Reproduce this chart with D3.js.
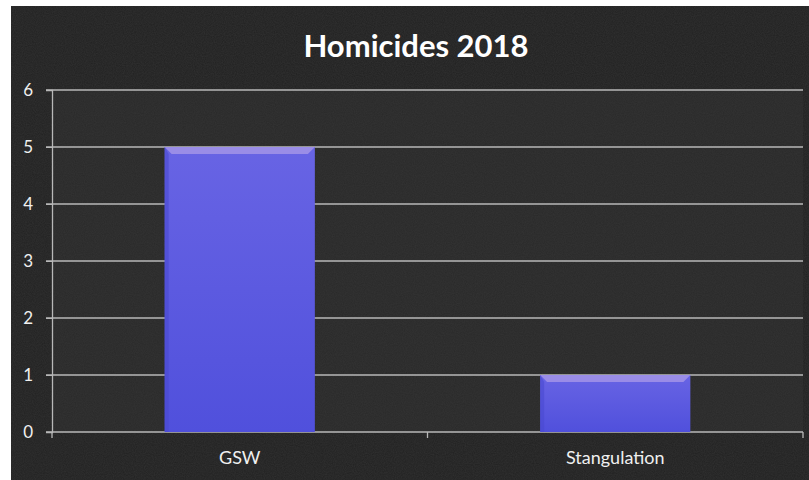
<!DOCTYPE html>
<html><head><meta charset="utf-8">
<script src="https://cdn.jsdelivr.net/npm/d3@7"></script>
<style>body{margin:0;background:#fff;}svg{display:block;}</style>
</head><body>
<script>
const categories = ["GSW", "Stangulation"];
const values = [5, 1];
const yTicks = [0, 1, 2, 3, 4, 5, 6];
const title = "Homicides 2018";

const W = 809, H = 480;
const svg = d3.select("body").append("svg").attr("width", W).attr("height", H);
const defs = svg.append("defs");

const f = defs.append("filter").attr("id","noise").attr("x",0).attr("y",0).attr("width","100%").attr("height","100%");
f.append("feTurbulence").attr("type","fractalNoise").attr("baseFrequency",0.9).attr("numOctaves",2).attr("seed",3).attr("result","n");
f.append("feColorMatrix").attr("in","n").attr("type","matrix")
  .attr("values","0 0 0 0 0.5  0 0 0 0 0.5  0 0 0 0 0.5  0 0 0 0.35 0").attr("result","g");
f.append("feComposite").attr("in","g").attr("in2","SourceGraphic").attr("operator","in");

const bg = defs.append("linearGradient").attr("id","barg").attr("x1",0).attr("y1",0).attr("x2",0).attr("y2",1);
bg.append("stop").attr("offset","0%").attr("stop-color","#6864e4");
bg.append("stop").attr("offset","100%").attr("stop-color","#5050dc");

svg.append("rect").attr("x",11).attr("y",6).attr("width",W-11).attr("height",H-6).attr("fill","#212121");
svg.append("rect").attr("x",11).attr("y",6).attr("width",W-11).attr("height",H-6).attr("fill","#888").attr("filter","url(#noise)").attr("opacity",0.3);

const m = {left:52, right:803, top:90, bottom:432};
svg.append("rect").attr("x",m.left).attr("y",m.top).attr("width",m.right-m.left).attr("height",m.bottom-m.top).attr("fill","#3a3a3a").attr("opacity",0.35);

const x = d3.scaleBand().domain(categories).range([m.left, m.right]).paddingInner(0).paddingOuter(0);
const y = d3.scaleLinear().domain([0, 6]).range([m.bottom, m.top]);

svg.append("g").selectAll("line").data(yTicks).join("line")
  .attr("x1", m.left - 6).attr("x2", m.right)
  .attr("y1", d => y(d)).attr("y2", d => y(d))
  .attr("stroke", "#b8b8b8").attr("stroke-width", 1.3);

const font = "Lato, 'Open Sans', sans-serif";
const ya = svg.append("g").attr("transform",`translate(${m.left},0)`)
  .call(d3.axisLeft(y).tickValues(yTicks).tickSize(6).tickPadding(13).tickFormat(d3.format("d")));
ya.select(".domain").attr("stroke","#b8b8b8").attr("stroke-width",1.3);
ya.selectAll(".tick line").attr("stroke","#b8b8b8");
ya.selectAll("text").attr("fill","#f0f0f0").attr("font-family",font).attr("font-size",17);

const xa = svg.append("g").attr("transform",`translate(0,${m.bottom})`)
  .call(d3.axisBottom(x).tickSize(0).tickPadding(19));
xa.select(".domain").remove();
xa.selectAll("text").attr("fill","#f0f0f0").attr("font-family",font).attr("font-size",18);
const bounds = [m.left, ...categories.map(c => x(c) + x.bandwidth())];
svg.append("g").selectAll("line").data(bounds).join("line")
  .attr("x1", d => d).attr("x2", d => d).attr("y1", m.bottom).attr("y2", m.bottom + 6)
  .attr("stroke","#b8b8b8").attr("stroke-width",1.3);

const bw = x.bandwidth() * 0.4;
const bars = svg.append("g").selectAll("g").data(categories.map((c,i)=>({c, v: values[i]}))).join("g");
bars.append("rect")
  .attr("x", d => x(d.c) + (x.bandwidth() - bw)/2)
  .attr("y", d => y(d.v))
  .attr("width", bw)
  .attr("height", d => y(0) - y(d.v))
  .attr("fill", "url(#barg)");
bars.append("path")
  .attr("d", d => {
    const x0 = x(d.c) + (x.bandwidth() - bw)/2, y0 = y(d.v), b = 7;
    return `M${x0},${y0}L${x0+bw},${y0}L${x0+bw-b},${y0+b}L${x0+b},${y0+b}Z`;
  })
  .attr("fill", "#a394e8").attr("opacity", 0.85);
bars.append("path")
  .attr("d", d => {
    const x0 = x(d.c) + (x.bandwidth() - bw)/2, y0 = y(d.v), b = 4, y1 = y(0);
    return `M${x0},${y0}L${x0+b},${y0+7}L${x0+b},${y1}L${x0},${y1}Z`;
  })
  .attr("fill", "#4a4ad0").attr("opacity", 0.6);

svg.append("text").attr("x", 416).attr("y", 57).attr("text-anchor","middle")
  .attr("fill","#ffffff").attr("font-family",font).attr("font-weight","bold").attr("font-size",31)
  .text(title);
</script>
</body></html>
